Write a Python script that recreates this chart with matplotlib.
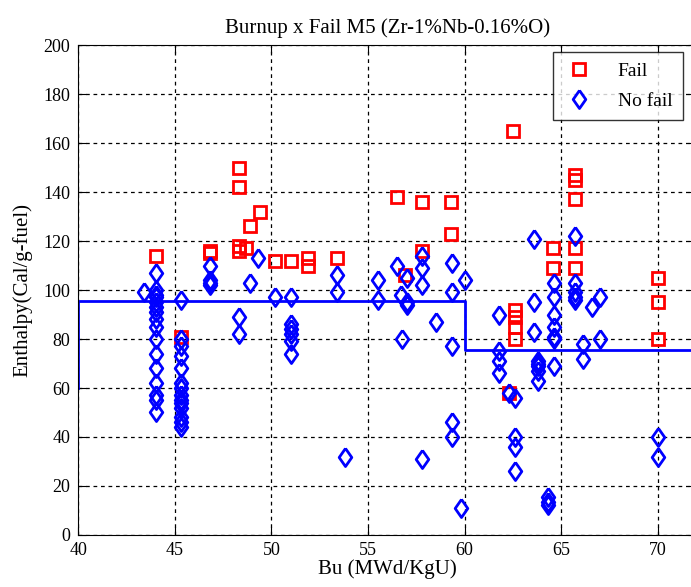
"""
Burnup x Fail scatter for M5 cladding (Zr-1%Nb-0.16%O).

Enthalpy vs burnup, failed rods as red squares, intact rods as blue
diamonds, with the stepped failure threshold drawn in blue.
"""

import matplotlib
matplotlib.use("Agg")
import matplotlib.pyplot as plt

# failed rods
fail_bu = [44.0, 45.3, 46.8, 46.8, 48.3, 48.3, 48.3, 48.3, 48.7, 48.9, 49.4,
           50.2, 51.0, 51.9, 51.9, 53.4, 56.5, 56.9, 57.8, 57.8, 59.3, 59.3,
           62.3, 62.5, 62.6, 62.6, 62.6, 62.6, 64.6, 64.6,
           65.7, 65.7, 65.7, 65.7, 65.7, 70.0, 70.0, 70.0]
fail_h = [114, 81, 116, 115, 150, 142, 118, 116, 117, 126, 132,
          112, 112, 113, 110, 113, 138, 106, 136, 116, 136, 123,
          58, 165, 92, 89, 85, 80, 117, 109,
          147, 145, 137, 117, 109, 105, 95, 80]

# rods without failure
ok_bu = ([43.4]
         + [44.0] * 16
         + [45.3] * 14
         + [46.8] * 4
         + [48.3, 48.3, 48.9, 49.3, 50.2]
         + [51.0] * 6
         + [53.4, 53.4, 53.8, 55.5, 55.5, 56.5, 56.7, 56.75, 57.0, 57.0, 57.0,
            57.8, 57.8, 57.8, 57.8, 58.5,
            59.35, 59.35, 59.35, 59.35, 59.35, 59.8, 60.0]
         + [61.8] * 4
         + [62.3, 62.6, 62.6, 62.6, 62.6]
         + [63.6, 63.6, 63.6]
         + [63.8] * 5
         + [64.3] * 3
         + [64.65] * 7
         + [65.7] * 5
         + [66.15, 66.15, 66.6, 67.0, 67.0, 70.0, 70.0])
ok_h = ([99]
        + [107, 100, 98, 97, 95, 93, 91, 88, 85, 80, 74, 68, 62, 57, 55, 50]
        + [96, 80, 77, 73, 68, 62, 60, 57, 55, 54, 52, 48, 46, 44]
        + [110, 104, 103, 102]
        + [89, 82, 103, 113, 97]
        + [97, 86, 84, 82, 79, 74]
        + [106, 99, 32, 104, 96, 110, 98, 80, 105, 95, 94,
           114, 109, 102, 31, 87,
           111, 99, 77, 46, 40, 11, 104]
        + [90, 75, 71, 66]
        + [58, 56, 40, 36, 26]
        + [121, 95, 83]
        + [71, 70, 69, 67, 63]
        + [15.6, 13.6, 12.2]
        + [103, 97, 90, 85, 81, 80, 69]
        + [122, 103, 99, 97, 96]
        + [78, 72, 93, 97, 80, 40, 32])

# threshold step
lim_bu = [40, 40, 60, 60, 72]
lim_h = [60, 95.5, 95.5, 75.5, 75.5]

xticks = [40, 45, 50, 55, 60, 65, 70]
yticks = list(range(0, 201, 20))

# matlab-like diamond, a bit taller than wide
DIAMOND = [(0, 1), (0.7, 0), (0, -1), (-0.7, 0), (0, 1)]

plt.rcParams["font.family"] = ["Liberation Serif", "DejaVu Serif"]

fig = plt.figure(figsize=(6.91, 5.87), dpi=100)
ax = fig.add_axes([0.1135, 0.0886, 0.894, 0.8347])

ax.plot(lim_bu, lim_h, color="#0000ff", lw=2, zorder=2)
ax.plot(fail_bu, fail_h, ls="none", marker="s", ms=8.5, mfc="none",
        mec="#ff0000", mew=2, label="Fail", zorder=3)
ax.plot(ok_bu, ok_h, ls="none", marker=DIAMOND, ms=13, mfc="none",
        mec="#0000ff", mew=2, label="No fail", zorder=3)

ax.set_xlim(40, 72)
ax.set_ylim(0, 200)
ax.set_xticks(xticks)
ax.set_yticks(yticks)
ax.tick_params(direction="in", length=6, labelsize=13, top=True, right=True)
ax.tick_params(axis="x", pad=5)
ax.tick_params(axis="y", pad=6)
ax.grid(True, color="black", ls=(0, (3, 3)), lw=0.9)
ax.set_axisbelow(True)

ax.set_title("Burnup x Fail M5 (Zr-1%Nb-0.16%O)", fontsize=15, pad=9)
ax.set_xlabel("Bu (MWd/KgU)", fontsize=15, labelpad=0)
ax.set_ylabel("Enthalpy(Cal/g-fuel)", fontsize=15, labelpad=8)

leg = ax.legend(loc="upper right", bbox_to_anchor=(683 / 691, 1 - 52 / 587),
                bbox_transform=fig.transFigure, borderaxespad=0, fontsize=14,
                frameon=True, fancybox=False, edgecolor="black",
                handletextpad=1.2, borderpad=0.55, labelspacing=0.6,
                handlelength=1.6)
leg.get_frame().set_linewidth(1.0)

fig.savefig("out.png", dpi=100)
